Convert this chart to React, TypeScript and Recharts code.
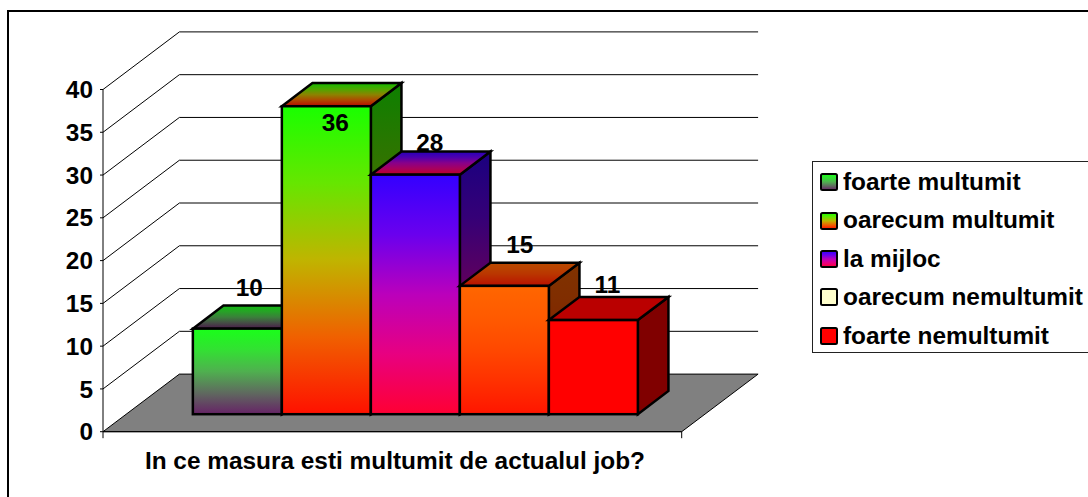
import React from "react";
import { BarChart, Bar, XAxis, YAxis, CartesianGrid, Legend } from "recharts";

const CATEGORIES = ["In ce masura esti multumit de actualul job?"];
const SERIES_NAMES = ["foarte multumit", "oarecum multumit", "la mijloc", "oarecum nemultumit", "foarte nemultumit"];
const SERIES_VALUES = [[10], [36], [28], [15], [11]];
const Y_TICKS = [0, 5, 10, 15, 20, 25, 30, 35, 40];

const rows = CATEGORIES.map((category, i) => {
  const row: Record<string, string | number> = { category };
  SERIES_NAMES.forEach((n, s) => { row[n] = SERIES_VALUES[s][i]; });
  return row;
});

// styles, one per series
const GRADIENTS = [
  ["#19ff19", "#33e033", "#4fb04f", "#5f6a5f", "#662266"],
  ["#19ff00", "#66e600", "#c0b400", "#f06000", "#ff1000"],
  ["#3300ff", "#6a00ee", "#bb00bb", "#e80080", "#ff0033"],
  ["#ff6600", "#ff5a00", "#ff4800", "#ff3000", "#ff1500"],
  ["#ff0000", "#ff0000", "#ff0000", "#ff0000", "#ff0000"],
];
const SWATCHES = ["url(#front0)", "url(#front1)", "url(#front2)", "#ffffcc", "url(#front4)"];
const LABEL_OFFSETS = [[12, -33], [9, 25], [14.5, -24], [15.5, -33], [14, -27]];

const FONT = "'Liberation Sans', Arial, sans-serif";
const FONT_SIZE = 24.4;
const W = 1088, H = 497;
const WALL_DX = 76.4, WALL_DY = 57.6;
const BAR_SHIFT_X = 22.85, BAR_SHIFT_Y = -17.5;
const BAR_DX = 30.6, BAR_DY = 23.2;
const BAR_WIDTH = 89;
const PLOT = { left: 103, right: 681.7, top: 89.5, bottom: 431.7 };

const shade = (hex: string, f: number) => {
  const n = parseInt(hex.slice(1), 16);
  const c = [n >> 16, (n >> 8) & 255, n & 255].map((v) => Math.round(v * f));
  return `rgb(${c.join(",")})`;
};

const Grad = ({ id, colors, f }: any) => (
  <linearGradient id={id} x1="0" y1="0" x2="0" y2="1">
    {colors.map((c: string, i: number) => (
      <stop key={i} offset={i / (colors.length - 1)} stopColor={shade(c, f)} />
    ))}
  </linearGradient>
);

const Box3D = ({ x, y, width, height, index }: any) => {
  const l = x + BAR_SHIFT_X, r = l + width, t = y + BAR_SHIFT_Y, b = t + height;
  const common = { stroke: "#000", strokeWidth: 2.5, strokeLinejoin: "miter" as const };
  return (
    <g>
      <polygon points={`${r},${t} ${r + BAR_DX},${t - BAR_DY} ${r + BAR_DX},${b - BAR_DY} ${r},${b}`} fill={`url(#side${index})`} {...common} />
      <polygon points={`${l},${t} ${l + BAR_DX},${t - BAR_DY} ${r + BAR_DX},${t - BAR_DY} ${r},${t}`} fill={`url(#top${index})`} {...common} />
      <rect x={l} y={t} width={width} height={height} fill={`url(#front${index})`} {...common} />
    </g>
  );
};

const gridLine = (p: any) => {
  const { x1, x2, y1 } = p;
  const isFloor = Math.abs(y1 - PLOT.bottom) < 1;
  return (
    <g key={p.key ?? y1}>
      {isFloor ? (
        <>
          <polygon
            points={`${x1},${y1} ${x1 + WALL_DX},${y1 - WALL_DY} ${x2 + WALL_DX},${y1 - WALL_DY} ${x2},${y1}`}
            fill="#808080" stroke="#000" strokeWidth={1}
          />
          <line x1={x1} x2={x1} y1={y1} y2={y1 + 6.5} stroke="#000" />
          <line x1={x2} x2={x2} y1={y1} y2={y1 + 6.5} stroke="#000" />
        </>
      ) : (
        <polyline points={`${x1},${y1} ${x1 + WALL_DX},${y1 - WALL_DY} ${x2 + WALL_DX},${y1 - WALL_DY}`} fill="none" stroke="#000" strokeWidth={1} />
      )}
    </g>
  );
};

const CategoryTick = ({ x, y, payload }: any) => (
  <text x={x + 2.6} y={y + 29} textAnchor="middle" fontFamily={FONT} fontWeight={700} fontSize={FONT_SIZE} fill="#000">
    {payload.value}
  </text>
);

const LegendBox = ({ payload }: any) => {
  const entries = SERIES_NAMES.map((n) => (payload ?? []).find((e: any) => e.value === n)).filter(Boolean);
  return (
    <div style={{ width: 290, height: 192, boxSizing: "border-box", border: "1px solid #222", background: "#fff", paddingTop: 1 }}>
      {entries.map((e: any, i: number) => (
        <div key={e.value} style={{ height: 38.4, display: "flex", alignItems: "center", fontFamily: FONT, fontWeight: 700, fontSize: FONT_SIZE, color: "#000", lineHeight: 1 }}>
          <svg width={18} height={18} style={{ marginLeft: 7, marginRight: 5, flex: "none" }}>
            <rect x={1} y={1} width={16} height={16} rx={1.5} fill={SWATCHES[i]} stroke="#000" strokeWidth={2} />
          </svg>
          <span style={{ whiteSpace: "nowrap" }}>{e.value}</span>
        </div>
      ))}
    </div>
  );
};

const dataLabel = (s: number) => (p: any) => (
  <text
    key={s}
    x={p.x + p.width / 2 + BAR_SHIFT_X + LABEL_OFFSETS[s][0]}
    y={p.y + BAR_SHIFT_Y + LABEL_OFFSETS[s][1]}
    textAnchor="middle" fontFamily={FONT} fontWeight={700} fontSize={FONT_SIZE} fill="#000"
  >
    {p.value}
  </text>
);

function boxFor(i: number) {
  return (p: any) => <Box3D {...p} index={i} />;
}

export default function App() {
  return (
    <div style={{ position: "absolute", left: 0, top: 0, width: W, height: H, overflow: "hidden", background: "#fff" }}>
      <div style={{ position: "absolute", left: 7, top: 10, width: W, height: H, borderLeft: "2px solid #000", borderTop: "2px solid #000" }} />
      <div style={{ position: "absolute", left: 0, top: 0 }}>
        <BarChart
          width={W}
          height={H}
          data={rows}
          barSize={BAR_WIDTH}
          barGap={0}
          margin={{ left: PLOT.left - 60, right: W - PLOT.right, top: PLOT.top, bottom: H - PLOT.bottom - 40 }}
        >
          <defs>
            {GRADIENTS.map((c, i) => (
              <React.Fragment key={i}>
                <Grad id={`front${i}`} colors={c} f={1} />
                <Grad id={`top${i}`} colors={c} f={0.73} />
                <Grad id={`side${i}`} colors={c} f={0.5} />
              </React.Fragment>
            ))}
          </defs>
          <CartesianGrid horizontal={gridLine} vertical={false} />
          <XAxis dataKey="category" height={40} axisLine={{ stroke: "#000" }} tickLine={false} tick={CategoryTick} interval={0} />
          <YAxis
            width={60}
            domain={[0, 40]}
            ticks={Y_TICKS}
            interval={0}
            axisLine={{ stroke: "#000" }}
            tickLine={{ stroke: "#000" }}
            tickSize={3}
            tickMargin={7}
            tick={{ fontFamily: FONT, fontWeight: 700, fontSize: FONT_SIZE, fill: "#000" }}
          />
          <Legend
            layout="vertical"
            align="center"
            verticalAlign="middle"
            content={LegendBox}
            wrapperStyle={{ left: 812, top: 161, width: 290, margin: 0 }}
          />
          {SERIES_NAMES.map((n, i) => (
            <Bar key={n} dataKey={n} name={n} fill={`url(#front${i})`} isAnimationActive={false} shape={boxFor(i)} label={dataLabel(i)} />
          ))}
        </BarChart>
      </div>
    </div>
  );
}
